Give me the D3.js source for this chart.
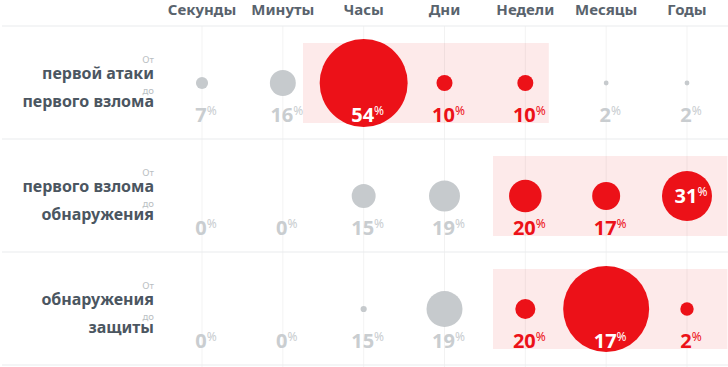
<!DOCTYPE html>
<html>
<head>
<meta charset="utf-8">
<script src="https://cdn.jsdelivr.net/npm/d3@7"></script>
<style>
  body { margin: 0; background: #fff; }
  text { font-family: "Noto Sans", sans-serif; }
</style>
</head>
<body>
<div id="chart"></div>
<script>
// column categories and row labels
var periods = ["Секунды", "Минуты", "Часы", "Дни", "Недели", "Месяцы", "Годы"];
var fromLabels = ["первой атаки", "первого взлома", "обнаружения"];
var toLabels = ["первого взлома", "обнаружения", "защиты"];

// percentages printed under each bubble
var pctAttack = [7, 16, 54, 10, 10, 2, 2];
var pctBreach = [0, 0, 15, 19, 20, 17, 31];
var pctDetect = [0, 0, 15, 19, 20, 17, 2];

// bubble areas (relative)
var sizeAttack = [1.9, 8.7, 100, 3.3, 3.3, 0.3, 0.3];
var sizeBreach = [0, 0, 7.4, 12.4, 13.7, 10.1, 32.3];
var sizeDetect = [0, 0, 0.5, 16.7, 5.2, 95.5, 2.3];

// highlighted span per row (column index units)
var hlFrom = [1.25, 3.6, 3.6];
var hlTo = [4.29, 6.5, 6.5];
var hlFirst = [2, 4, 4];
var hlLast = [4, 6, 6];

var pcts = [pctAttack, pctBreach, pctDetect];
var sizes = [sizeAttack, sizeBreach, sizeDetect];

var width = 728, height = 367;
var headerH = 26, rowH = 113;

var red = "#ec1118", grey = "#c6cacd", greyText = "#c9cdd0", dark = "#4b5661";

var svg = d3.select("#chart").append("svg").attr("width", width).attr("height", height);

var xScale = d3.scaleLinear().domain([0, 6]).range([202, 687]);
var rScale = d3.scaleSqrt().domain([0, 100]).range([0, 44]);

// highlight bands
for (var r = 0; r < 3; r++) {
  var rowTop = headerH + r * rowH;
  svg.append("rect")
    .attr("x", xScale(hlFrom[r]))
    .attr("y", rowTop + 17)
    .attr("width", xScale(hlTo[r]) - xScale(hlFrom[r]))
    .attr("height", 80)
    .style("fill", "#fdeaea");
}

// vertical grid
svg.selectAll("line.v")
  .data(periods)
  .enter()
  .append("line")
  .attr("x1", function(d, i) { return xScale(i); })
  .attr("x2", function(d, i) { return xScale(i); })
  .attr("y1", headerH)
  .attr("y2", height)
  .style("stroke", "#000")
  .style("stroke-opacity", 0.05);

// horizontal rules
for (var k = 0; k <= 3; k++) {
  svg.append("line")
    .attr("x1", 2).attr("x2", width)
    .attr("y1", headerH + k * rowH).attr("y2", headerH + k * rowH)
    .style("stroke", "#e9ecee").style("stroke-width", 1.2);
}

// column headers
svg.selectAll("text.head")
  .data(periods)
  .enter()
  .append("text")
  .attr("x", function(d, i) { return xScale(i); })
  .attr("y", 15)
  .attr("text-anchor", "middle")
  .style("font-size", "15px")
  .style("font-weight", "bold")
  .style("fill", "#59636d")
  .text(function(d) { return d; });

pcts.forEach(function(rowPct, r) {
  var top = headerH + r * rowH;
  var cy = top + 57;
  var labelY = top + 96;
  var g = svg.append("g");

  // row label
  var lab = g.append("g").attr("transform", "translate(154," + top + ")");
  lab.append("text").attr("x", 0).attr("y", 37).attr("text-anchor", "end")
    .style("font-size", "9.5px").style("fill", "#b9bec2").text("От");
  lab.append("text").attr("x", 0).attr("y", 53).attr("text-anchor", "end")
    .style("font-size", "16px").style("font-weight", "bold").style("fill", dark).text(fromLabels[r]);
  lab.append("text").attr("x", 0).attr("y", 67.5).attr("text-anchor", "end")
    .style("font-size", "9.5px").style("fill", "#b9bec2").text("до");
  lab.append("text").attr("x", 0).attr("y", 81).attr("text-anchor", "end")
    .style("font-size", "16px").style("font-weight", "bold").style("fill", dark).text(toLabels[r]);

  rowPct.forEach(function(p, i) {
    var rad = rScale(sizes[r][i]);
    var hot = i >= hlFirst[r] && i <= hlLast[r];
    if (rad > 0) {
      g.append("circle")
        .attr("cx", xScale(i))
        .attr("cy", cy)
        .attr("r", rad)
        .style("fill", hot ? red : grey);
    }
    var ty = labelY;
    var col = hot ? red : greyText;
    if (rad > 40) {
      col = "#fff";
    } else if (cy + rad > labelY - 16) {
      ty = cy + 7;
      col = "#fff";
    }
    var t = g.append("text")
      .attr("x", xScale(i) + 4)
      .attr("y", ty)
      .attr("text-anchor", "middle")
      .style("font-size", "20px")
      .style("font-weight", "bold")
      .style("fill", col);
    t.append("tspan").text(p);
    t.append("tspan").attr("dy", -7).style("font-size", "12px").style("font-weight", "normal").text("%");
  });
});
</script>
</body>
</html>
